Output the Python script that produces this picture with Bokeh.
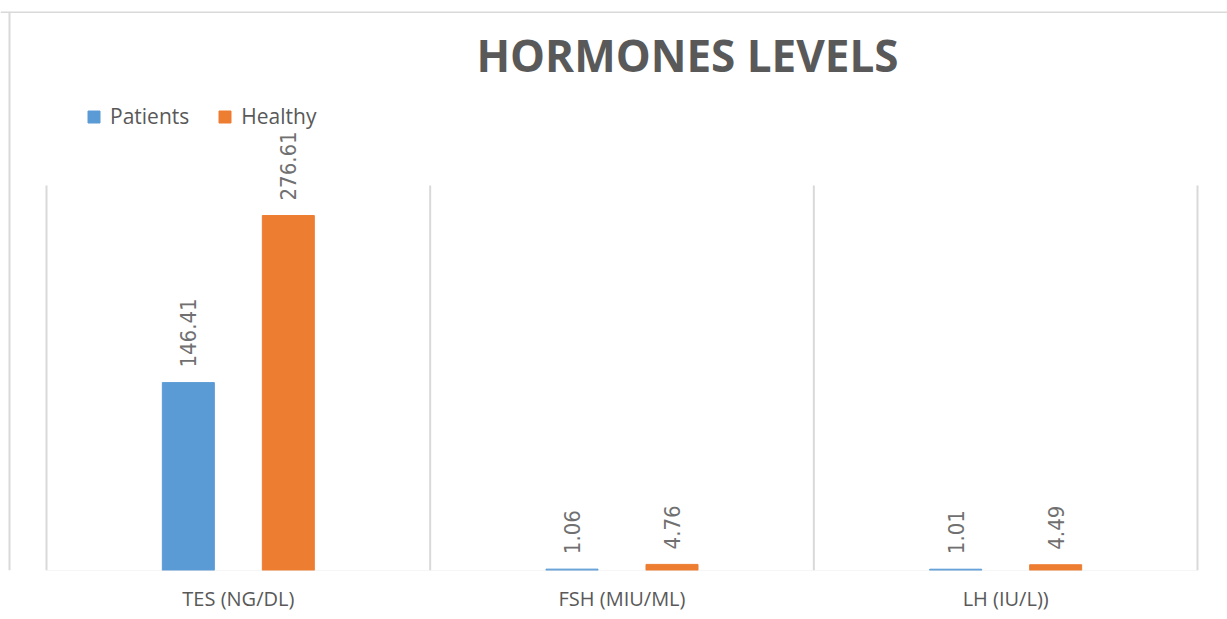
import math
from bokeh.plotting import figure
from bokeh.models import (ColumnDataSource, Range1d, FixedTicker, LabelSet, Label,
                          Legend, LegendItem, Span)
from bokeh.core.properties import value
from bokeh.embed import file_html
from bokeh.resources import INLINE

# ---- data ----
categories = ["TES (NG/DL)", "FSH (MIU/ML)", "LH (IU/L))"]
series_names = ["Patients", "Healthy"]
patients = [146.41, 1.06, 1.01]
healthy = [276.61, 4.76, 4.49]
colors = ["#5B9BD5", "#ED7D31"]
y_max = 300

# ---- layout geometry (pixels) ----
W, H = 1227, 619
frame_top_px = 11         # frame top within canvas
frame_bottom_px = 570     # baseline within canvas
plot_left_px = 46         # category area left within canvas
plot_right_px = 1197      # category area right within canvas
plot_top_px = 185         # top of value area within canvas

n = len(categories)
px_per_cat = (plot_right_px - plot_left_px) / n
x_start = -plot_left_px / px_per_cat
x_end = n + (W - plot_right_px) / px_per_cat
px_per_unit = (frame_bottom_px - plot_top_px) / y_max
y_end = (frame_bottom_px - frame_top_px) / px_per_unit

GRAY = "#595959"
GRID = "#d9d9d9"
FONT = "Open Sans"
NARROW = "'Liberation Sans Narrow', 'DejaVu Sans Condensed', 'Arial Narrow', sans-serif"

p = figure(width=W, height=H, title=None, output_backend="svg", toolbar_location=None,
           x_range=Range1d(x_start, x_end), y_range=Range1d(0, y_end),
           y_axis_location=None, min_border_left=0, min_border_right=0,
           min_border_top=frame_top_px, min_border_bottom=H - frame_bottom_px)
p.outline_line_color = None
p.background_fill_color = "white"
p.border_fill_color = "white"
p.xgrid.visible = False
p.ygrid.visible = False

# outer chart border (left and top)
p.add_layout(Span(location=x_start + 9 / px_per_cat, dimension="height",
                  line_color=GRID, line_width=2))
p.add_layout(Span(location=y_end - 0.5 / px_per_unit, dimension="width",
                  line_color=GRID, line_width=2))

# category separators
bounds = list(range(n + 1))
p.segment(x0=bounds, y0=[0] * (n + 1), x1=bounds, y1=[y_max] * (n + 1),
          line_color=GRID, line_width=2)

# bars
bar_w = 52 / px_per_cat
offset = 50 / px_per_cat
centers = [i + 0.5 for i in range(n)]
items = []
for k, (vals, name, col) in enumerate(zip([patients, healthy], series_names, colors)):
    xs = [c + (-offset if k == 0 else offset) for c in centers]
    src = ColumnDataSource(dict(x=xs, top=vals, label=[f"{v:.2f}" for v in vals]))
    r = p.vbar(x="x", top="top", width=bar_w, bottom=0, source=src,
               fill_color=col, line_color=col)
    items.append(LegendItem(label=name, renderers=[r]))
    p.add_layout(LabelSet(x="x", y="top", text="label", source=src,
                          angle=math.pi / 2, text_align="left", text_baseline="middle",
                          y_offset=15, text_font=value(NARROW),
                          text_font_size="22px", text_color="#707070"))

# baseline (drawn over the bar bottoms)
p.segment(x0=[0], y0=[-1 / px_per_unit], x1=[n], y1=[-1 / px_per_unit],
          line_color=GRID, line_width=2)

# x axis
ax = p.xaxis[0]
ax.ticker = FixedTicker(ticks=centers)
ax.major_label_overrides = {c: cat for c, cat in zip(centers, categories)}
ax.axis_line_color = None
ax.major_tick_line_color = None
ax.minor_tick_line_color = None
ax.major_tick_out = 0
ax.major_tick_in = 0
ax.minor_tick_out = 0
ax.major_label_standoff = 14
ax.major_label_text_font = FONT
ax.major_label_text_font_size = "20px"
ax.major_label_text_color = GRAY

# title
p.add_layout(Label(x=(687 - plot_left_px) / px_per_cat,
                   y=(frame_bottom_px - 54) / px_per_unit,
                   text="HORMONES LEVELS", text_align="center", text_baseline="alphabetic",
                   text_font=FONT, text_font_style="bold",
                   text_font_size="44px", text_color=GRAY))

# legend
legend = Legend(items=items, orientation="horizontal", location=(86, 570 - 130),
                glyph_width=15, glyph_height=15, label_standoff=9, spacing=28,
                padding=0, margin=0, border_line_color=None, background_fill_alpha=0,
                label_text_font=FONT, label_text_font_size="21px",
                label_text_color=GRAY)
p.add_layout(legend, "center")

open("out.html", "w").write(file_html(p, INLINE))
